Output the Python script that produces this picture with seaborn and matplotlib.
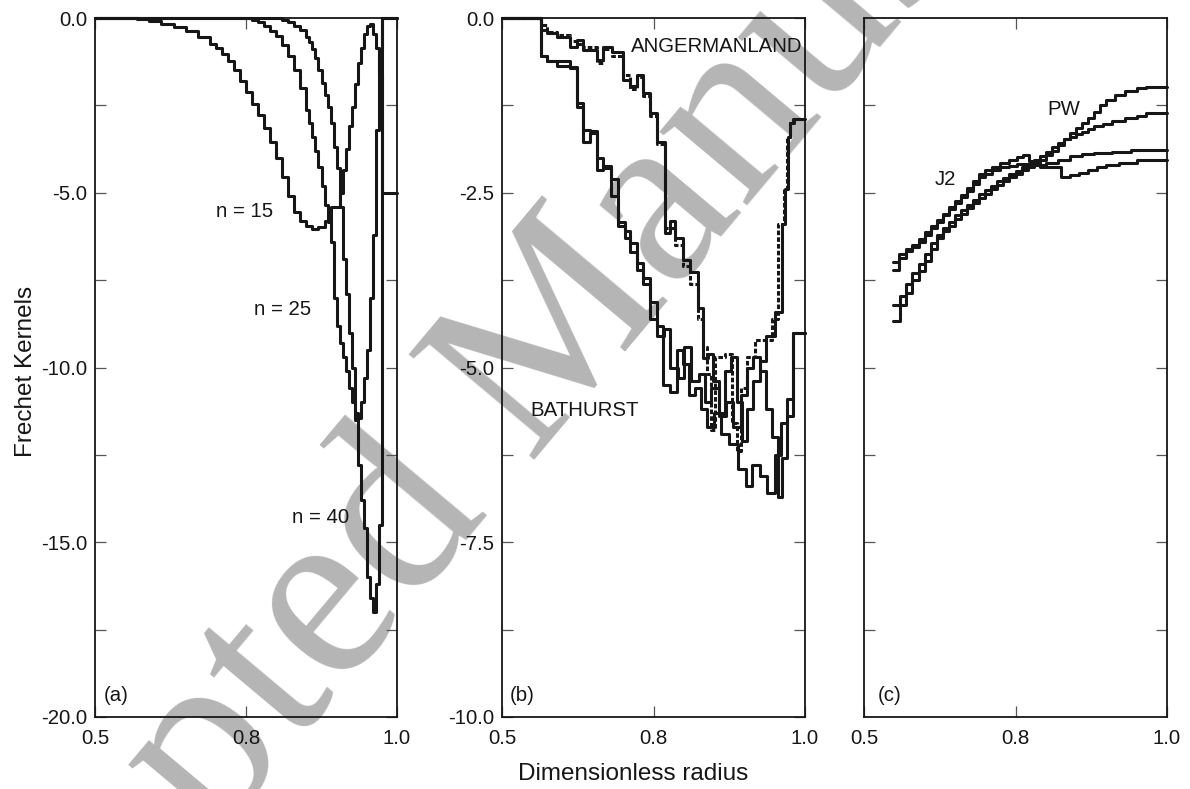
import matplotlib
matplotlib.use("Agg")
import matplotlib.pyplot as plt
import seaborn as sns

# ---------------- data ----------------
# (a) kernels for three harmonic degrees (step functions over radius)
n15_r = [0.50, 0.55, 0.57, 0.59, 0.61, 0.63, 0.65, 0.67, 0.69, 0.70, 0.71, 0.72, 0.73,
         0.74, 0.75, 0.76, 0.77, 0.78, 0.79, 0.80, 0.81, 0.82, 0.83, 0.84, 0.85, 0.86,
         0.87, 0.88, 0.89, 0.90, 0.905, 0.91, 0.915, 0.92, 0.925, 0.93, 0.935, 0.94,
         0.945, 0.95, 0.955, 0.96, 0.965, 0.97, 0.975, 1.00]
n15_k = [0.0, -0.01, -0.04, -0.09, -0.16, -0.26, -0.38, -0.53, -0.74, -0.86, -1.02, -1.24, -1.50,
         -1.80, -2.12, -2.45, -2.78, -3.15, -3.55, -4.02, -4.55, -5.10, -5.55, -5.80, -5.95, -6.05,
         -5.97, -5.80, -5.40, -5.40, -5.00, -4.35, -3.75, -3.10, -2.54, -1.90, -1.30, -0.85,
         -0.45, -0.22, -0.18, -0.45, -0.85, -1.60, -5.00, -5.00]

n25_r = [0.50, 0.75, 0.76, 0.77, 0.78, 0.79, 0.80, 0.81, 0.82, 0.83, 0.84, 0.85, 0.855,
         0.86, 0.865, 0.87, 0.875, 0.88, 0.885, 0.89, 0.895, 0.90, 0.905, 0.91, 0.915, 0.92,
         0.925, 0.93, 0.935, 0.94, 0.945, 0.95, 0.955, 0.96, 0.965, 0.97, 0.975, 1.00]
n25_k = [0.0, 0.0, -0.05, -0.12, -0.22, -0.36, -0.52, -0.78, -1.10, -1.48, -2.00, -2.63, -3.00,
         -3.40, -3.80, -4.25, -4.80, -5.35, -5.85, -6.40, -8.00, -8.80, -9.30, -9.70, -10.10, -10.60,
         -11.00, -11.30, -11.45, -11.00, -10.30, -9.50, -8.00, -6.20, -3.20, -0.90, 0.0, 0.0]

n40_r = [0.50, 0.80, 0.81, 0.82, 0.83, 0.84, 0.85, 0.855, 0.86, 0.865, 0.87, 0.875, 0.88,
         0.885, 0.89, 0.895, 0.90, 0.905, 0.91, 0.915, 0.92, 0.925, 0.93, 0.935, 0.94, 0.945,
         0.95, 0.955, 0.96, 0.965, 0.97, 0.975, 1.00]
n40_k = [0.0, 0.0, -0.05, -0.12, -0.22, -0.35, -0.53, -0.70, -0.90, -1.15, -1.50, -1.85, -2.20,
         -2.55, -3.00, -3.70, -4.30, -5.40, -6.90, -7.90, -9.00, -10.00, -11.50, -12.80, -13.80, -14.60,
         -16.00, -16.60, -17.00, -16.20, -14.50, 0.0, 0.0]

# (b) kernels for two regions, two models each
ang1_r = [0.500, 0.565, 0.574, 0.590, 0.612, 0.623, 0.634, 0.656, 0.667, 0.681, 0.700, 0.711,
          0.722, 0.733, 0.744, 0.755, 0.769, 0.777, 0.785, 0.799, 0.810, 0.824, 0.832, 0.840,
          0.848, 0.858, 0.868, 0.878, 0.888, 0.896, 0.905, 0.915, 0.925, 0.935, 0.950, 0.962,
          0.967, 0.972, 0.976, 0.982, 1.000]
ang1_k = [0.00, -0.17, -0.22, -0.27, -0.41, -0.31, -0.46, -0.60, -0.41, -0.48, -0.89, -0.97,
          -0.82, -1.07, -1.36, -1.77, -3.08, -2.91, -3.15, -3.46, -3.63, -4.15, -4.87, -4.80,
          -5.20, -5.65, -5.05, -4.85, -5.50, -6.05, -5.60, -5.20, -4.90, -4.55, -4.20, -2.95,
          -2.45, -1.70, -1.50, -1.45, -1.45]

ang2_r = [0.500, 0.565, 0.574, 0.590, 0.612, 0.623, 0.634, 0.656, 0.667, 0.681, 0.700, 0.711,
          0.722, 0.733, 0.744, 0.755, 0.769, 0.785, 0.799, 0.810, 0.824, 0.832, 0.838, 0.845,
          0.852, 0.868, 0.880, 0.888, 0.895, 0.905, 0.918, 0.935, 0.945, 0.955, 0.965, 0.970,
          0.975, 0.980, 1.000]
ang2_k = [0.00, -0.10, -0.20, -0.25, -0.33, -0.37, -0.42, -0.65, -0.45, -0.55, -0.82, -1.02,
          -0.85, -1.12, -1.40, -1.80, -3.00, -3.25, -3.55, -3.80, -4.30, -4.70, -5.10, -5.90,
          -4.85, -4.80, -5.80, -6.20, -5.30, -4.85, -4.60, -4.60, -4.30, -2.95, -2.45, -1.70,
          -1.50, -1.45, -1.45]

bat1_r = [0.500, 0.565, 0.575, 0.590, 0.612, 0.623, 0.634, 0.645, 0.656, 0.667, 0.680, 0.692,
          0.703, 0.712, 0.722, 0.733, 0.745, 0.755, 0.766, 0.778, 0.788, 0.798, 0.808, 0.818,
          0.828, 0.838, 0.850, 0.862, 0.875, 0.890, 0.902, 0.912, 0.925, 0.938, 0.950, 0.960,
          0.970, 0.980, 1.000]
bat1_k = [0.00, -0.55, -0.62, -0.68, -0.72, -1.27, -1.77, -1.65, -2.17, -2.12, -2.55, -2.98,
          -3.05, -3.22, -3.50, -3.72, -4.06, -4.40, -5.25, -5.35, -4.75, -4.95, -5.40, -5.30,
          -5.60, -5.85, -5.65, -5.95, -6.10, -6.45, -6.70, -6.40, -6.55, -6.80, -6.25, -5.80,
          -5.45, -4.50, -4.50]

bat2_r = [0.500, 0.565, 0.575, 0.590, 0.612, 0.623, 0.634, 0.645, 0.656, 0.667, 0.680, 0.692,
          0.703, 0.712, 0.722, 0.733, 0.745, 0.755, 0.768, 0.778, 0.790, 0.800, 0.812, 0.825,
          0.835, 0.845, 0.858, 0.870, 0.882, 0.895, 0.905, 0.915, 0.925, 0.935, 0.945, 0.955,
          0.962, 0.970, 0.980, 1.000]
bat2_k = [0.00, -0.55, -0.62, -0.62, -0.70, -1.22, -1.60, -1.62, -2.00, -2.15, -2.30, -2.92,
          -3.15, -3.35, -3.60, -3.80, -4.30, -4.55, -4.45, -5.00, -5.15, -4.70, -5.20, -5.10,
          -5.50, -5.30, -5.70, -5.50, -5.85, -5.40, -5.00, -4.85, -5.05, -5.60, -6.00, -6.85,
          -6.30, -5.70, -4.50, -4.50]

# (c) kernels for two parameters, two models each
pw1_r = [0.548, 0.560, 0.570, 0.580, 0.590, 0.600, 0.610, 0.620, 0.630, 0.640, 0.650, 0.660,
         0.670, 0.680, 0.690, 0.700, 0.710, 0.720, 0.730, 0.740, 0.750, 0.760, 0.770, 0.780,
         0.790, 0.800, 0.810, 0.820, 0.830, 0.840, 0.850, 0.860, 0.870, 0.880, 0.890, 0.900,
         0.915, 0.930, 0.950, 0.965, 1.000]
pw1_k = [4.53, 4.72, 4.85, 5.00, 5.10, 5.22, 5.36, 5.48, 5.56, 5.62, 5.70, 5.76,
         5.82, 5.88, 5.94, 5.99, 6.04, 6.09, 6.14, 6.18, 6.22, 6.26, 6.30, 6.34,
         6.38, 6.43, 6.48, 6.55, 6.62, 6.68, 6.74, 6.80, 6.86, 6.92, 7.00, 7.06,
         7.12, 7.16, 7.20, 7.21, 7.21]

pw2_r = [0.548, 0.560, 0.570, 0.580, 0.590, 0.600, 0.610, 0.620, 0.630, 0.640, 0.650, 0.660,
         0.670, 0.680, 0.690, 0.700, 0.710, 0.720, 0.730, 0.740, 0.750, 0.760, 0.770, 0.780,
         0.790, 0.800, 0.810, 0.820, 0.830, 0.840, 0.850, 0.860, 0.870, 0.880, 0.895, 0.910,
         0.930, 0.950, 0.965, 1.000]
pw2_k = [4.72, 4.82, 4.95, 5.08, 5.18, 5.30, 5.42, 5.52, 5.60, 5.66, 5.74, 5.80,
         5.86, 5.92, 5.98, 6.03, 6.08, 6.13, 6.17, 6.21, 6.25, 6.29, 6.33, 6.37,
         6.42, 6.47, 6.52, 6.57, 6.61, 6.64, 6.67, 6.70, 6.73, 6.76, 6.79, 6.82,
         6.85, 6.88, 6.91, 6.91]

j21_r = [0.548, 0.558, 0.570, 0.580, 0.590, 0.600, 0.610, 0.620, 0.630, 0.640, 0.650, 0.660,
         0.670, 0.680, 0.690, 0.700, 0.712, 0.724, 0.740, 0.752, 0.763, 0.772, 0.782, 0.800,
         0.820, 0.840, 0.860, 0.880, 0.910, 0.940, 1.000]
j21_k = [5.21, 5.30, 5.36, 5.40, 5.47, 5.55, 5.62, 5.69, 5.76, 5.84, 5.90, 5.97,
         6.06, 6.14, 6.22, 6.26, 6.30, 6.34, 6.38, 6.41, 6.43, 6.36, 6.32, 6.34,
         6.38, 6.42, 6.44, 6.45, 6.47, 6.49, 6.49]

j22_r = [0.548, 0.558, 0.570, 0.580, 0.590, 0.600, 0.610, 0.620, 0.630, 0.640, 0.650, 0.660,
         0.670, 0.680, 0.690, 0.700, 0.712, 0.724, 0.740, 0.752, 0.765, 0.775, 0.790, 0.805,
         0.825, 0.840, 0.855, 0.870, 0.885, 0.900, 0.920, 0.950, 1.000]
j22_k = [5.12, 5.25, 5.33, 5.38, 5.44, 5.52, 5.60, 5.66, 5.74, 5.81, 5.88, 5.95,
         6.02, 6.10, 6.18, 6.22, 6.26, 6.29, 6.31, 6.33, 6.33, 6.32, 6.30, 6.29,
         6.18, 6.20, 6.23, 6.26, 6.29, 6.32, 6.34, 6.37, 6.38]

x_ticks = [0.5, 0.75, 1.0]
x_tick_labels = ["0.5", "0.8", "1.0"]
a_yticks = [0.0, -2.5, -5.0, -7.5, -10.0, -12.5, -15.0, -17.5, -20.0]
a_ylabels = ["0.0", "", "-5.0", "", "-10.0", "", "-15.0", "", "-20.0"]
b_yticks = [0.0, -1.25, -2.5, -3.75, -5.0, -6.25, -7.5, -8.75, -10.0]
b_ylabels = ["0.0", "", "-2.5", "", "-5.0", "", "-7.5", "", "-10.0"]
c_yticks = [1, 2, 3, 4, 5, 6, 7]

# ---------------- style ----------------
sns.set_style("ticks")
plt.rcParams["font.family"] = ["Liberation Sans", "DejaVu Sans"]
plt.rcParams["axes.facecolor"] = "none"

INK = "#161616"
W, H = 1190, 789
fig = plt.figure(figsize=(W / 100, H / 100), dpi=100)
fig.patch.set_facecolor("white")

# faint diagonal stamp behind the panels
fig.text(0.481, 0.475, "Accepted Manuscript", rotation=50, rotation_mode="anchor",
         ha="center", va="baseline", fontsize=180, family="Liberation Serif",
         color="#b5b5b5", zorder=-5)


def make_axes(left_px, width_px):
    return fig.add_axes([left_px / W, 1 - 717 / H, width_px / W, 699 / H])


ax_a = make_axes(95, 302)
ax_b = make_axes(502, 303)
ax_c = make_axes(864, 303)


def step(ax, r, k, dashed=False):
    kws = dict(color=INK, linewidth=2.2, drawstyle="steps-post", estimator=None,
               sort=False, clip_on=False)
    if dashed:
        kws["linestyle"] = (0, (1.5, 0.7))
    sns.lineplot(x=r, y=k, ax=ax, **kws)


step(ax_a, n15_r, n15_k)
step(ax_a, n25_r, n25_k)
step(ax_a, n40_r, n40_k)

step(ax_b, ang1_r, ang1_k)
step(ax_b, ang2_r, ang2_k, dashed=True)
step(ax_b, bat1_r, bat1_k)
step(ax_b, bat2_r, bat2_k)

step(ax_c, pw1_r, pw1_k)
step(ax_c, pw2_r, pw2_k)
step(ax_c, j21_r, j21_k)
step(ax_c, j22_r, j22_k)

TXT = 14.7
for ax in (ax_a, ax_b, ax_c):
    ax.set_xlim(0.5, 1.0)
    ax.set_xticks(x_ticks)
    ax.set_xticklabels(x_tick_labels)
    ax.tick_params(axis="both", direction="in", length=8, width=0.9, color="#555555",
                   top=True, right=True, labelsize=TXT, labelcolor=INK)
    ax.tick_params(axis="x", pad=8.5)
    ax.tick_params(axis="y", pad=5.5)
    for sp in ax.spines.values():
        sp.set_visible(True)
        sp.set_linewidth(1.3)
        sp.set_color(INK)
    ax.set_xlabel("")
    ax.set_ylabel("")

ax_a.set_ylim(-20, 0)
ax_a.set_yticks(a_yticks)
ax_a.set_yticklabels(a_ylabels)
ax_b.set_ylim(-10, 0)
ax_b.set_yticks(b_yticks)
ax_b.set_yticklabels(b_ylabels)
ax_c.set_ylim(0, 8)
ax_c.set_yticks(c_yticks)
ax_c.set_yticklabels([])

# curve labels
ax_a.text(0.748, -5.55, "n = 15", ha="center", va="center", fontsize=TXT, color=INK)
ax_a.text(0.811, -8.35, "n = 25", ha="center", va="center", fontsize=TXT, color=INK)
ax_a.text(0.874, -14.28, "n = 40", ha="center", va="center", fontsize=TXT, color=INK)
ax_b.text(0.995, -0.41, "ANGERMANLAND", ha="right", va="center", fontsize=TXT, color=INK)
ax_b.text(0.546, -5.61, "BATHURST", ha="left", va="center", fontsize=TXT, color=INK)
ax_c.text(0.829, 6.95, "PW", ha="center", va="center", fontsize=TXT, color=INK)
ax_c.text(0.635, 6.15, "J2", ha="center", va="center", fontsize=TXT, color=INK)

for ax, tag, fx in ((ax_a, "(a)", 0.07), (ax_b, "(b)", 0.068), (ax_c, "(c)", 0.086)):
    ax.text(fx, 0.031, tag, transform=ax.transAxes, ha="center", va="center",
            fontsize=TXT, color=INK)

fig.text(32 / W, 1 - 371 / H, "Frechet Kernels", rotation=90, rotation_mode="anchor",
         ha="center", va="baseline", fontsize=17.5, color=INK)
fig.text(633 / W, 1 - 780 / H, "Dimensionless radius", ha="center", va="baseline",
         fontsize=17.5, color=INK)

fig.savefig("out.png", dpi=100, facecolor="white")
